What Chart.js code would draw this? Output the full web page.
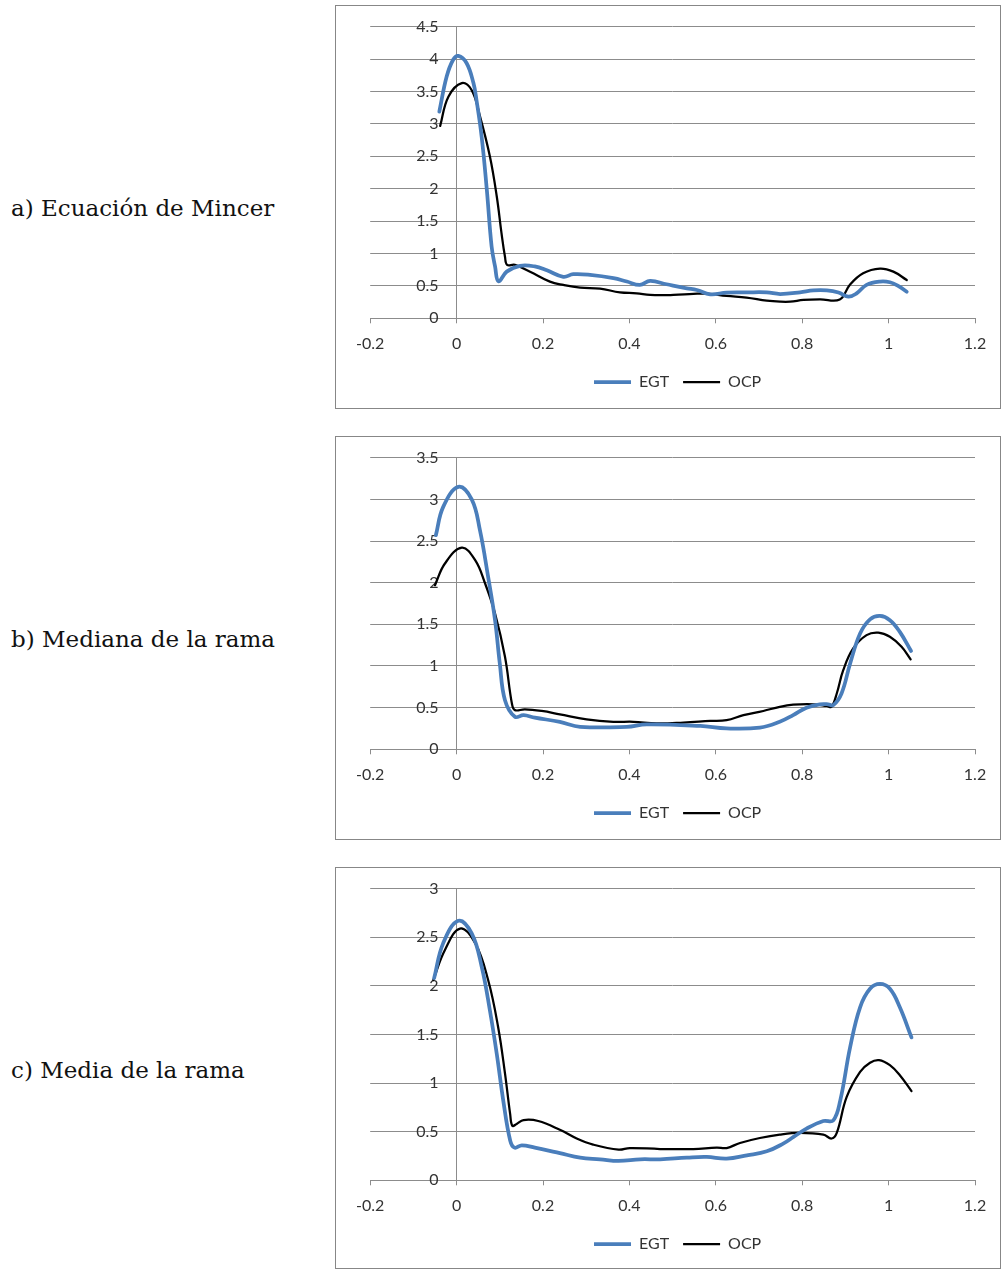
<!DOCTYPE html>
<html>
<head>
<meta charset="utf-8">
<title>EGT / OCP</title>
<script src="https://cdn.jsdelivr.net/npm/chart.js@4.4.1/dist/chart.umd.min.js"></script>
<style>
  html, body { margin: 0; padding: 0; background: #ffffff; }
  body { width: 1001px; height: 1269px; position: relative; overflow: hidden; }
  .frame { position: absolute; left: 335px; width: 666px; box-sizing: border-box; border: 1px solid #878787; }
  .plot { position: absolute; left: 335px; }
  .caption { position: absolute; left: 11px; font-family: "DejaVu Serif", serif; font-size: 23px;
             line-height: 23px; color: #111111; white-space: nowrap; }
</style>
</head>
<body>
<script>
// ---- series names, captions, ticks ----
const seriesNames = ['EGT', 'OCP'];
const captions = ['a) Ecuación de Mincer', 'b) Mediana de la rama', 'c) Media de la rama'];
const xTicks = [-0.2, 0, 0.2, 0.4, 0.6, 0.8, 1, 1.2];
const mincerYTicks = [0, 0.5, 1, 1.5, 2, 2.5, 3, 3.5, 4, 4.5];
const medianaYTicks = [0, 0.5, 1, 1.5, 2, 2.5, 3, 3.5];
const mediaYTicks = [0, 0.5, 1, 1.5, 2, 2.5, 3];

// ---- a) Ecuación de Mincer ----
const mincerEgtX = [-0.040, -0.023, -0.008, 0.004, 0.023, 0.039, 0.046, 0.058, 0.070, 0.081, 0.089, 0.097,
  0.116, 0.147, 0.181, 0.209, 0.247, 0.270, 0.309, 0.363, 0.394, 0.424, 0.448, 0.486, 0.533, 0.556,
  0.587, 0.625, 0.671, 0.718, 0.749, 0.795, 0.826, 0.857, 0.884, 0.907, 0.926, 0.949, 0.980, 1.003,
  1.022, 1.042];
const mincerEgtY = [3.19, 3.73, 3.99, 4.05, 3.94, 3.63, 3.37, 2.80, 1.98, 1.11, 0.80, 0.57,
  0.72, 0.81, 0.80, 0.74, 0.64, 0.68, 0.67, 0.62, 0.567, 0.515, 0.576, 0.525, 0.463, 0.437,
  0.371, 0.397, 0.40, 0.40, 0.375, 0.40, 0.43, 0.43, 0.397, 0.333, 0.385, 0.515, 0.566, 0.556,
  0.50, 0.41];
const mincerOcpX = [-0.038, -0.019, 0.012, 0.035, 0.054, 0.077, 0.093, 0.104, 0.112, 0.117, 0.135, 0.170,
  0.216, 0.247, 0.286, 0.332, 0.378, 0.417, 0.448, 0.502, 0.548, 0.579, 0.625, 0.671, 0.718, 0.749,
  0.772, 0.803, 0.841, 0.887, 0.910, 0.941, 0.980, 1.011, 1.042];
const mincerOcpY = [2.97, 3.42, 3.63, 3.52, 3.12, 2.50, 1.88, 1.31, 0.95, 0.824, 0.824, 0.72,
  0.566, 0.515, 0.473, 0.458, 0.40, 0.386, 0.36, 0.36, 0.376, 0.38, 0.345, 0.32, 0.273, 0.257,
  0.257, 0.283, 0.293, 0.29, 0.515, 0.695, 0.767, 0.72, 0.59];

// ---- b) Mediana de la rama ----
const medianaEgtX = [-0.048, -0.031, 0.004, 0.035, 0.054, 0.073, 0.089, 0.100, 0.112, 0.135, 0.155, 0.181,
  0.239, 0.286, 0.394, 0.440, 0.564, 0.625, 0.702, 0.748, 0.779, 0.810, 0.841, 0.860, 0.872, 0.891,
  0.911, 0.934, 0.957, 0.980, 1.003, 1.026, 1.052];
const medianaEgtY = [2.57, 2.91, 3.15, 3.00, 2.63, 2.07, 1.55, 1.03, 0.59, 0.39, 0.41, 0.38,
  0.33, 0.27, 0.27, 0.30, 0.28, 0.25, 0.26, 0.33, 0.41, 0.50, 0.54, 0.54, 0.53, 0.67,
  1.03, 1.39, 1.56, 1.60, 1.55, 1.41, 1.18];
const medianaOcpX = [-0.050, -0.027, 0.012, 0.043, 0.066, 0.089, 0.112, 0.128, 0.135, 0.158, 0.197, 0.239,
  0.301, 0.363, 0.409, 0.463, 0.525, 0.587, 0.625, 0.664, 0.710, 0.748, 0.779, 0.826, 0.857, 0.868,
  0.880, 0.895, 0.918, 0.949, 0.976, 1.003, 1.030, 1.051];
const medianaOcpY = [1.97, 2.23, 2.42, 2.27, 1.99, 1.63, 1.11, 0.55, 0.47, 0.48, 0.46, 0.42,
  0.36, 0.33, 0.33, 0.31, 0.32, 0.34, 0.35, 0.41, 0.46, 0.51, 0.535, 0.54, 0.52, 0.51,
  0.67, 0.95, 1.21, 1.37, 1.40, 1.35, 1.23, 1.08];

// ---- c) Media de la rama ----
const mediaEgtX = [-0.052, -0.031, 0.004, 0.035, 0.058, 0.077, 0.093, 0.108, 0.124, 0.134, 0.151, 0.181,
  0.239, 0.286, 0.332, 0.375, 0.425, 0.471, 0.533, 0.579, 0.625, 0.672, 0.718, 0.756, 0.780, 0.810,
  0.849, 0.872, 0.888, 0.911, 0.934, 0.957, 0.980, 1.003, 1.026, 1.053];
const mediaEgtY = [2.08, 2.44, 2.67, 2.54, 2.20, 1.75, 1.30, 0.82, 0.41, 0.336, 0.36, 0.336,
  0.28, 0.233, 0.216, 0.199, 0.216, 0.216, 0.233, 0.240, 0.223, 0.257, 0.298, 0.377, 0.446, 0.532,
  0.61, 0.617, 0.82, 1.37, 1.78, 1.97, 2.02, 1.97, 1.78, 1.47];
const mediaOcpX = [-0.054, -0.027, 0.008, 0.043, 0.073, 0.096, 0.112, 0.124, 0.129, 0.139, 0.155, 0.189,
  0.239, 0.278, 0.316, 0.375, 0.401, 0.471, 0.548, 0.602, 0.625, 0.656, 0.702, 0.748, 0.795, 0.849,
  0.868, 0.880, 0.903, 0.934, 0.957, 0.978, 1.003, 1.026, 1.053];
const mediaOcpY = [2.06, 2.37, 2.59, 2.44, 2.06, 1.58, 1.10, 0.68, 0.56, 0.58, 0.62, 0.61,
  0.52, 0.43, 0.367, 0.315, 0.332, 0.322, 0.322, 0.336, 0.332, 0.384, 0.435, 0.470, 0.487, 0.470,
  0.43, 0.487, 0.858, 1.115, 1.21, 1.236, 1.184, 1.08, 0.918];

// ---- page layout ----
const panels = [
  { caption: captions[0], yTicks: mincerYTicks,  egt: [mincerEgtX, mincerEgtY],   ocp: [mincerOcpX, mincerOcpY],   top: 5,   height: 404, captionTop: 197 },
  { caption: captions[1], yTicks: medianaYTicks, egt: [medianaEgtX, medianaEgtY], ocp: [medianaOcpX, medianaOcpY], top: 436, height: 404, captionTop: 628 },
  { caption: captions[2], yTicks: mediaYTicks,   egt: [mediaEgtX, mediaEgtY],     ocp: [mediaOcpX, mediaOcpY],     top: 867, height: 402, captionTop: 1059 }
];

const WIDTH = 666;
const PAD_LEFT = 35.2;
const PAD_RIGHT = 26;
const PLOT_TOP = 21.7;       // top of plotting area inside the frame
const PLOT_HEIGHT = 291.6;
const LEGEND_MID = 377;      // vertical centre of the legend row
const LEGEND_PAD = 14;
const LEGEND_H = 40;
const LEGEND_SHIFT = 5;
const X_MIN = -0.2, X_MAX = 1.2;
const Y_LABEL_GAP = 18;      // gap between the vertical axis and its labels
const FONT = { family: 'Lato, "Open Sans", sans-serif', size: 16 };
const TEXT = '#333333';
const GRID = '#8c8c8c';
const CLEAR = 'rgba(0,0,0,0)';
const EGT_COLOR = '#4a7ebb';
const OCP_COLOR = '#000000';

// y labels are anchored a little to the left of x = 0, where the vertical axis line sits
const pxPerUnit = (WIDTH - PAD_LEFT - PAD_RIGHT) / (X_MAX - X_MIN);
const yLabelAnchor = -Y_LABEL_GAP / pxPerUnit;

function points(pair) {
  return pair[0].map((x, i) => ({ x: x, y: pair[1][i] }));
}

function fmt(v) {
  return String(Math.round(v * 10) / 10);
}

const legendShift = {
  id: 'legendShift',
  afterLayout(chart) {
    if (chart.legend) {
      chart.legend.left += LEGEND_SHIFT;
      chart.legend.right += LEGEND_SHIFT;
    }
  }
};

panels.forEach(p => {
  const frame = document.createElement('div');
  frame.className = 'frame';
  frame.style.top = p.top + 'px';
  frame.style.height = p.height + 'px';
  document.body.appendChild(frame);

  const cap = document.createElement('div');
  cap.className = 'caption';
  cap.style.top = p.captionTop + 'px';
  cap.textContent = p.caption;
  document.body.appendChild(cap);

  const canvas = document.createElement('canvas');
  canvas.className = 'plot';
  canvas.width = WIDTH;
  canvas.height = p.height;
  canvas.style.top = p.top + 'px';
  canvas.style.width = WIDTH + 'px';
  canvas.style.height = p.height + 'px';
  document.body.appendChild(canvas);

  const legendTop = LEGEND_MID - LEGEND_PAD - FONT.size / 2;
  const padBottom = p.height - LEGEND_H - legendTop;
  const axisHeight = legendTop - (PLOT_TOP + PLOT_HEIGHT);
  const yMax = p.yTicks[p.yTicks.length - 1];

  new Chart(canvas, {
    type: 'line',
    data: {
      datasets: [
        { label: seriesNames[0], data: points(p.egt), borderColor: EGT_COLOR, backgroundColor: EGT_COLOR,
          borderWidth: 3.75, pointRadius: 0, tension: 0.4, fill: false, borderJoinStyle: 'round', borderCapStyle: 'round' },
        { label: seriesNames[1], data: points(p.ocp), borderColor: OCP_COLOR, backgroundColor: OCP_COLOR,
          borderWidth: 2.25, pointRadius: 0, tension: 0.4, fill: false, borderJoinStyle: 'round', borderCapStyle: 'round' }
      ]
    },
    plugins: [legendShift],
    options: {
      responsive: false,
      devicePixelRatio: 1,
      animation: false,
      events: [],
      layout: { padding: { left: PAD_LEFT, right: PAD_RIGHT, top: PLOT_TOP, bottom: padBottom } },
      plugins: {
        tooltip: { enabled: false },
        legend: {
          position: 'bottom',
          maxHeight: LEGEND_H,
          labels: {
            usePointStyle: true,
            pointStyle: 'line',
            pointStyleWidth: 37,
            padding: LEGEND_PAD,
            color: TEXT,
            font: FONT
          }
        }
      },
      scales: {
        x: {
          type: 'linear',
          position: 'bottom',
          min: X_MIN,
          max: X_MAX,
          afterBuildTicks: s => { s.ticks = xTicks.map(v => ({ value: v })); },
          afterFit: s => { s.height = axisHeight; },
          ticks: { padding: 11, color: TEXT, font: FONT, maxRotation: 0, autoSkip: false, callback: fmt },
          // only the x = 0 line is drawn across the plot: it is the vertical axis
          grid: {
            display: true, drawOnChartArea: true, drawTicks: true, tickLength: 5, lineWidth: 1,
            color: c => (c.tick && c.tick.value === 0) ? GRID : CLEAR,
            tickColor: GRID
          },
          border: { display: true, color: GRID, width: 1 }
        },
        y: {
          type: 'linear',
          position: { x: yLabelAnchor },
          min: 0,
          max: yMax,
          afterBuildTicks: s => { s.ticks = p.yTicks.map(v => ({ value: v })); },
          ticks: { padding: 0, color: TEXT, font: FONT, autoSkip: false, callback: fmt },
          grid: { display: true, drawTicks: false, color: GRID, lineWidth: 1 },
          border: { display: false }
        }
      }
    }
  });
});
</script>
</body>
</html>
